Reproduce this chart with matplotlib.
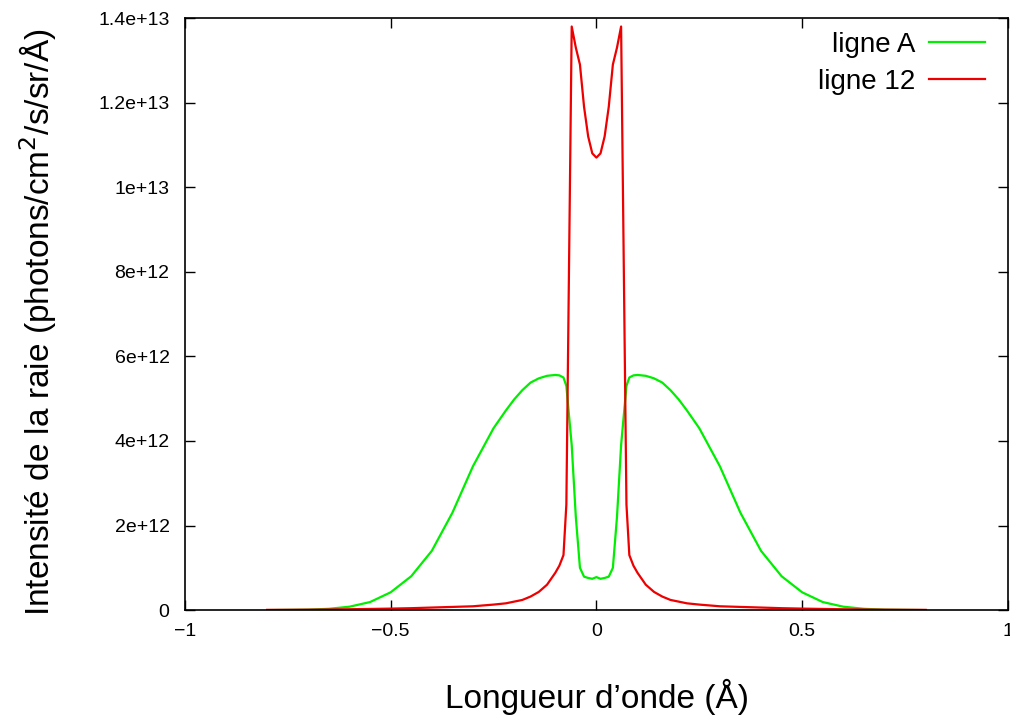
import numpy as np
import matplotlib
matplotlib.use("Agg")
import matplotlib.pyplot as plt

plt.rcParams["font.family"] = ["Liberation Sans", "DejaVu Sans"]

# half profiles (x <= 0), mirrored for x > 0
x_half = [-0.80, -0.75, -0.70, -0.65, -0.60, -0.55, -0.50, -0.45, -0.40, -0.35,
          -0.30, -0.25, -0.22, -0.20, -0.18, -0.16, -0.14, -0.12, -0.10, -0.09,
          -0.08, -0.073, -0.06, -0.05, -0.04, -0.03, -0.02, -0.01, 0.0]
ligne_a_half = [0.0, 0.005, 0.01, 0.03, 0.08, 0.19, 0.42, 0.8, 1.4, 2.3,
                3.4, 4.3, 4.72, 4.98, 5.2, 5.38, 5.48, 5.54, 5.56, 5.55,
                5.5, 5.3, 3.9, 2.2, 1.0, 0.79, 0.76, 0.74, 0.78]
ligne_12_half = [0.005, 0.007, 0.01, 0.015, 0.02, 0.027, 0.035, 0.045, 0.06, 0.075,
                 0.09, 0.13, 0.16, 0.2, 0.24, 0.32, 0.43, 0.6, 0.88, 1.05,
                 1.3, 2.5, 13.8, 13.3, 12.9, 11.9, 11.2, 10.8, 10.7]

x = np.array(x_half + [-v for v in x_half[-2::-1]])
ligne_a = np.array(ligne_a_half + ligne_a_half[-2::-1]) * 1e12
ligne_12 = np.array(ligne_12_half + ligne_12_half[-2::-1]) * 1e12

yticks = [0, 2e12, 4e12, 6e12, 8e12, 1e13, 1.2e13, 1.4e13]
ytick_labels = ["0", "2e+12", "4e+12", "6e+12", "8e+12", "1e+13", "1.2e+13", "1.4e+13"]
xticks = [-1, -0.5, 0, 0.5, 1]
xtick_labels = ["\u22121", "\u22120.5", "0", "0.5", "1"]

fig = plt.figure(figsize=(10.1, 7.22), dpi=100)
ax = fig.add_axes([0.183, 0.155, 0.815, 0.820])

ax.plot(x, ligne_a, color="#00ee00", lw=1.6, label="ligne A")
ax.plot(x, ligne_12, color="#ee0000", lw=1.6, label="ligne 12")

ax.set_xlim(-1, 1)
ax.set_ylim(0, 1.4e13)
ax.set_xticks(xticks)
ax.set_xticklabels(xtick_labels)
ax.set_yticks(yticks)
ax.set_yticklabels(ytick_labels)
ax.tick_params(direction="in", length=7, width=1, labelsize=14,
               top=True, right=True)
ax.tick_params(axis="x", pad=9)
ax.tick_params(axis="y", pad=11)
for s in ax.spines.values():
    s.set_linewidth(1.2)

fig.text(0.591, 0.035, "Longueur d\u2019onde (\u00c5)", fontsize=24,
         ha="center", va="center")
fig.text(0.038, 0.554, "Intensit\u00e9 de la raie (photons/cm$^2$/s/sr/\u00c5)",
         fontsize=24, ha="center", va="center", rotation=90)

leg = ax.legend(loc="upper right", bbox_to_anchor=(0.985, 0.995), frameon=False,
                fontsize=20, markerfirst=False, handlelength=2.0,
                handletextpad=0.5, borderaxespad=0.0, labelspacing=0.38)
for t in leg.get_texts():
    t.set_ha("right")

fig.savefig("out.png", dpi=100)
